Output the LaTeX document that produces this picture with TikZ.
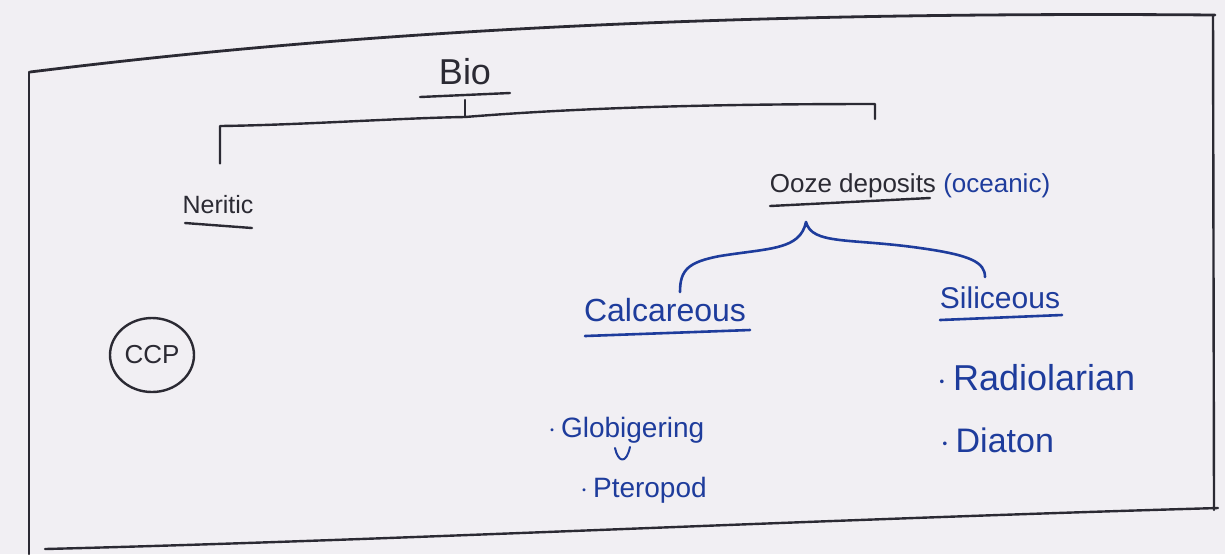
\documentclass[tikz,border=0pt]{standalone}
\usepackage{fontspec}
\setmainfont{Liberation Sans}
\usetikzlibrary{calc}
\definecolor{paper}{HTML}{F1EFF3}
\definecolor{ink}{HTML}{2B2A33}
\definecolor{bink}{HTML}{1E3C9C}
\tikzset{
  lbl/.style={inner sep=0pt, text=ink, font=\fontsize{#1}{#1}\selectfont},
  blbl/.style={inner sep=0pt, text=bink, font=\fontsize{#1}{#1}\selectfont},
  pen/.style={draw=ink, line width=1.2pt, line cap=round, line join=round},
  bpen/.style={draw=bink, line width=1.3pt, line cap=round, line join=round}
}
\begin{document}
\begin{tikzpicture}[x=0.5pt,y=-0.5pt]
\fill[paper] (0,0) rectangle (1225,554);
\useasboundingbox (0,0) rectangle (1225,554);
% frame
\draw[pen, line width=1.4pt] (30,72) .. controls (250,45) and (600,10) .. (1215,15);
\draw[pen] (29,72) -- (29,554);
\draw[pen] (1213,15) -- (1214,510);
\draw[pen] (45,549) .. controls (400,540) and (800,520) .. (1218,508);
% nodes
\node[lbl=18] (bio) at (465,72) {Bio};
\node[lbl=12.5] (ner) at (218,205) {Neritic};
\node[lbl=13] (ooze) at (910,186) {Ooze deposits \textcolor{bink}{(oceanic)}};
\node[blbl=16] (calc) at (665,310) {Calcareous};
\node[blbl=15] (sili) at (1000,298) {Siliceous};
\node[lbl=13] (ccp) at (152,355) {CCP};
\draw[pen] (ccp) ellipse [x radius=42, y radius=37];
\node[blbl=14, anchor=west] (glob) at (548,430) {$\cdot$\,Globigering};
\node[blbl=14, anchor=west] (pter) at (580,490) {$\cdot$\,Pteropod};
\node[blbl=18, anchor=west] (radi) at (937,378) {$\cdot$\,Radiolarian};
\node[blbl=17, anchor=west] (diat) at (940,440) {$\cdot$\,Diaton};
% underlines
\draw[pen] (420,97) -- (510,93);
\draw[pen] (185,223) -- (252,228);
\draw[pen] (770,206) -- (930,198);
\draw[bpen] (585,336) -- (750,330);
\draw[bpen] (940,320) -- (1062,315);
% tree bracket
\coordinate (top) at (465,117);
\coordinate (L) at (220,126);
\coordinate (R) at (875,104);
\draw[pen] (bio.south |- 0,100) -- (top);
\draw[pen] (ner.north -| L) ++(0,-32) -- (L) .. controls (300,125) and (400,118) .. (top) .. controls (600,106) and (750,104) .. (R) -- (875,119);
% blue brace
\coordinate (tip) at (806,222);
\draw[bpen] (680,292) .. controls (680,270) and (688,262) .. (720,256) .. controls (770,248) and (800,250) .. (tip)
   .. controls (812,245) and (850,238) .. (920,248) .. controls (970,255) and (985,262) .. (985,277);
% small tick under Globigering
\draw[bpen, line width=1pt] (615,448) .. controls (618,462) and (626,465) .. (630,447);
\end{tikzpicture}
\end{document}
